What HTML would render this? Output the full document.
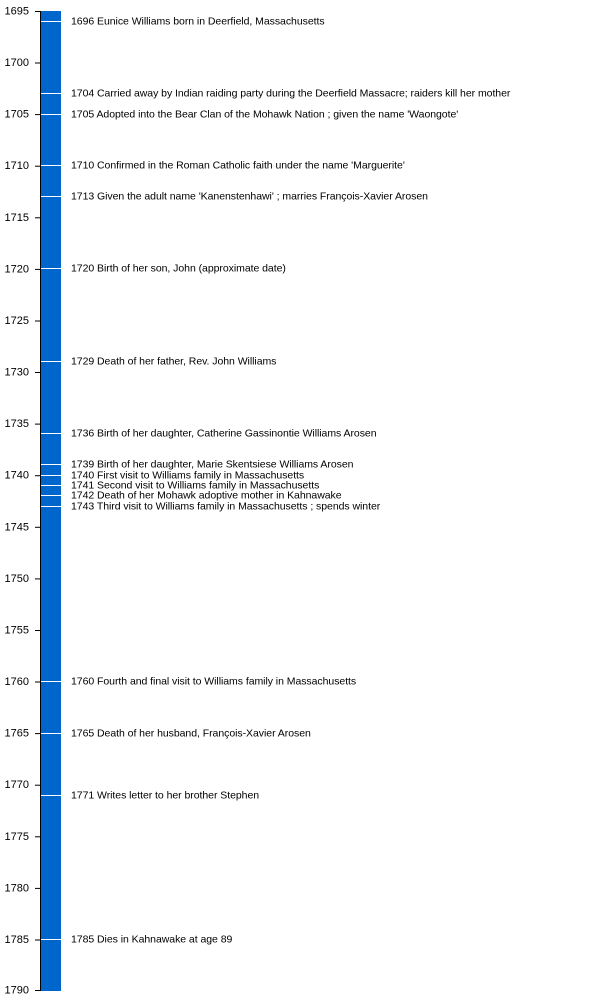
<!DOCTYPE html>
<html><head><meta charset="utf-8"><style>
body{margin:0;background:#fff;}
svg{display:block;font-family:"Liberation Sans",Arial,sans-serif;}
</style></head><body>
<svg width="600" height="1000" xmlns="http://www.w3.org/2000/svg">
<rect x="41" y="11" width="20" height="980" fill="#0066cc"/>
<line x1="40.5" y1="11" x2="40.5" y2="991" stroke="#000" stroke-width="1"/>
<g stroke="#000" stroke-width="1">
<line x1="35" x2="40" y1="11.5" y2="11.5"/><line x1="35" x2="40" y1="63" y2="63"/>
<line x1="35" x2="40" y1="114.6" y2="114.6"/><line x1="35" x2="40" y1="166.2" y2="166.2"/>
<line x1="35" x2="40" y1="217.8" y2="217.8"/><line x1="35" x2="40" y1="269.4" y2="269.4"/>
<line x1="35" x2="40" y1="321" y2="321"/><line x1="35" x2="40" y1="372.5" y2="372.5"/>
<line x1="35" x2="40" y1="424.1" y2="424.1"/><line x1="35" x2="40" y1="475.7" y2="475.7"/>
<line x1="35" x2="40" y1="527.3" y2="527.3"/><line x1="35" x2="40" y1="578.9" y2="578.9"/>
<line x1="35" x2="40" y1="630.5" y2="630.5"/><line x1="35" x2="40" y1="682" y2="682"/>
<line x1="35" x2="40" y1="733.6" y2="733.6"/><line x1="35" x2="40" y1="785.2" y2="785.2"/>
<line x1="35" x2="40" y1="836.8" y2="836.8"/><line x1="35" x2="40" y1="888.4" y2="888.4"/>
<line x1="35" x2="40" y1="940" y2="940"/><line x1="35" x2="40" y1="990.5" y2="990.5"/>
</g>
<g font-size="11" fill="#000" text-anchor="end" dominant-baseline="central">
<text x="29" y="11.5">1695</text><text x="29" y="63">1700</text><text x="29" y="114.6">1705</text>
<text x="29" y="166.2">1710</text><text x="29" y="217.8">1715</text><text x="29" y="269.4">1720</text>
<text x="29" y="321">1725</text><text x="29" y="372.5">1730</text><text x="29" y="424.1">1735</text>
<text x="29" y="475.7">1740</text><text x="29" y="527.3">1745</text><text x="29" y="578.9">1750</text>
<text x="29" y="630.5">1755</text><text x="29" y="682">1760</text><text x="29" y="733.6">1765</text>
<text x="29" y="785.2">1770</text><text x="29" y="836.8">1775</text><text x="29" y="888.4">1780</text>
<text x="29" y="940">1785</text><text x="29" y="990.5">1790</text>
</g>
<g stroke="#fff" stroke-width="1">
<line x1="41" x2="61" y1="21.5" y2="21.5"/><line x1="41" x2="61" y1="93.5" y2="93.5"/>
<line x1="41" x2="61" y1="114.5" y2="114.5"/><line x1="41" x2="61" y1="165.5" y2="165.5"/>
<line x1="41" x2="61" y1="196.5" y2="196.5"/><line x1="41" x2="61" y1="268.5" y2="268.5"/>
<line x1="41" x2="61" y1="361.5" y2="361.5"/><line x1="41" x2="61" y1="433.5" y2="433.5"/>
<line x1="41" x2="61" y1="464.5" y2="464.5"/><line x1="41" x2="61" y1="475.5" y2="475.5"/>
<line x1="41" x2="61" y1="485.5" y2="485.5"/><line x1="41" x2="61" y1="495.5" y2="495.5"/>
<line x1="41" x2="61" y1="506.5" y2="506.5"/><line x1="41" x2="61" y1="681.5" y2="681.5"/>
<line x1="41" x2="61" y1="733.5" y2="733.5"/><line x1="41" x2="61" y1="795.5" y2="795.5"/>
<line x1="41" x2="61" y1="939.5" y2="939.5"/>
</g>
<g font-size="10.5" fill="#000" dominant-baseline="central" letter-spacing="-0.05">
<text x="71" y="21.5">1696 Eunice Williams born in Deerfield, Massachusetts</text>
<text x="71" y="93.5">1704 Carried away by Indian raiding party during the Deerfield Massacre; raiders kill her mother</text>
<text x="71" y="114.5">1705 Adopted into the Bear Clan of the Mohawk Nation ; given the name 'Waongote'</text>
<text x="71" y="165.5">1710 Confirmed in the Roman Catholic faith under the name 'Marguerite'</text>
<text x="71" y="196.5">1713 Given the adult name 'Kanenstenhawi' ; marries François-Xavier Arosen</text>
<text x="71" y="268.5">1720 Birth of her son, John (approximate date)</text>
<text x="71" y="361.5">1729 Death of her father, Rev. John Williams</text>
<text x="71" y="433.5">1736 Birth of her daughter, Catherine Gassinontie Williams Arosen</text>
<text x="71" y="464.5">1739 Birth of her daughter, Marie Skentsiese Williams Arosen</text>
<text x="71" y="475.5">1740 First visit to Williams family in Massachusetts</text>
<text x="71" y="485.5">1741 Second visit to Williams family in Massachusetts</text>
<text x="71" y="495.5">1742 Death of her Mohawk adoptive mother in Kahnawake</text>
<text x="71" y="506.5">1743 Third visit to Williams family in Massachusetts ; spends winter</text>
<text x="71" y="681.5">1760 Fourth and final visit to Williams family in Massachusetts</text>
<text x="71" y="733.5">1765 Death of her husband, François-Xavier Arosen</text>
<text x="71" y="795.5">1771 Writes letter to her brother Stephen</text>
<text x="71" y="939.5">1785 Dies in Kahnawake at age 89</text>
</g>
</svg>
</body></html>
